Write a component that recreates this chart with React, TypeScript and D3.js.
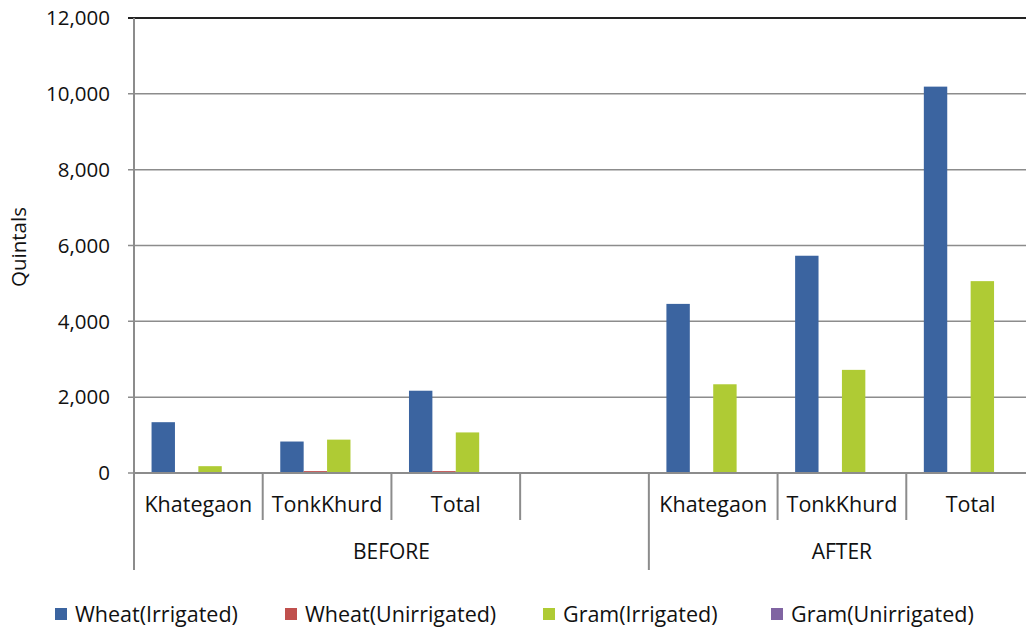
import * as d3 from "d3";

const GROUPS = ["BEFORE", "AFTER"];
const CATEGORIES = [
  { group: "BEFORE", label: "Khategaon" },
  { group: "BEFORE", label: "TonkKhurd" },
  { group: "BEFORE", label: "Total" },
  { group: "BEFORE", label: "" },
  { group: "AFTER", label: "Khategaon" },
  { group: "AFTER", label: "TonkKhurd" },
  { group: "AFTER", label: "Total" },
];
const SERIES = ["Wheat(Irrigated)", "Wheat(Unirrigated)", "Gram(Irrigated)", "Gram(Unirrigated)"];
const COLORS = ["#3b64a0", "#c0504d", "#afcb34", "#8064a2"];

const WHEAT_IRR = [1340, 830, 2170, 0, 4460, 5730, 10190];
const WHEAT_UNIRR = [0, 50, 50, 0, 0, 0, 0];
const GRAM_IRR = [180, 880, 1070, 0, 2340, 2720, 5060];
const GRAM_UNIRR = [0, 0, 0, 0, 0, 0, 0];
const VALUES = [WHEAT_IRR, WHEAT_UNIRR, GRAM_IRR, GRAM_UNIRR];

const Y_TICKS = [0, 2000, 4000, 6000, 8000, 10000, 12000];

const W = 1026, H = 631;
const left = 134, right = 1035, top = 18, bottom = 473;
const FONT = "'Open Sans', sans-serif";

export default function App() {
  const x = d3.scaleBand().domain(d3.range(CATEGORIES.length).map(String)).range([left, right]);
  const xs = d3.scaleBand().domain(SERIES).range([0, x.bandwidth()]).paddingInner(0).paddingOuter(0.75);
  const y = d3.scaleLinear().domain([0, 12000]).range([bottom, top]);
  const fmt = d3.format(",");

  // group spans
  const spans = GROUPS.map(g => {
    const idx = CATEGORIES.map((c, i) => (c.group === g ? i : -1)).filter(i => i >= 0);
    const x0 = x(String(idx[0]))!;
    const x1 = x(String(idx[idx.length - 1]))! + x.bandwidth();
    return { g, x0, x1 };
  });

  return (
    <div style={{ position: "absolute", left: 0, top: 0 }}>
      <svg width={W} height={H} style={{ display: "block", background: "#fff" }} fontFamily={FONT}>
        {/* gridlines */}
        {Y_TICKS.map(t => (
          <line key={t} x1={left - 6} x2={W} y1={y(t)} y2={y(t)}
            stroke={t === 12000 ? "#222" : "#8c8c8c"} strokeWidth={t === 12000 ? 2 : 1.5} />
        ))}
        {Y_TICKS.map(t => (
          <text key={"l" + t} x={110} y={y(t)} dy="0.35em" textAnchor="end" fontSize={20.5} fill="#111">
            {fmt(t)}
          </text>
        ))}

        {/* bars */}
        {CATEGORIES.map((c, ci) =>
          SERIES.map((s, si) => {
            const v = VALUES[si][ci];
            if (!v) return null;
            return (
              <rect key={ci + "-" + si}
                x={x(String(ci))! + xs(s)!}
                y={y(v)}
                width={xs.bandwidth()}
                height={y(0) - y(v)}
                fill={COLORS[si]} />
            );
          })
        )}

        {/* axes */}
        <line x1={left} x2={left} y1={top} y2={570} stroke="#8c8c8c" strokeWidth={2} />
        <line x1={left} x2={W} y1={bottom} y2={bottom} stroke="#8c8c8c" strokeWidth={2} />
        {CATEGORIES.map((c, i) => {
          if (i === 0) return null;
          const xx = x(String(i))!;
          const isGroupEdge = CATEGORIES[i - 1].group !== c.group;
          return (
            <line key={"t" + i} x1={xx} x2={xx} y1={bottom} y2={isGroupEdge ? 570 : 520}
              stroke="#8c8c8c" strokeWidth={2} />
          );
        })}
        {CATEGORIES.map((c, i) => (
          <text key={"c" + i} x={x(String(i))! + x.bandwidth() / 2} y={512} textAnchor="middle" fontSize={21.5} fill="#111">
            {c.label}
          </text>
        ))}
        {spans.map(s => (
          <text key={s.g} x={(s.x0 + s.x1) / 2} y={559} textAnchor="middle" fontSize={21} fill="#111">
            {s.g}
          </text>
        ))}

        {/* y label */}
        <text transform={`translate(26,247) rotate(-90)`} textAnchor="middle" fontSize={20.5} fill="#111">
          Quintals
        </text>

        {/* legend */}
        {SERIES.map((s, i) => {
          const lx = [55, 285, 543, 771][i];
          return (
            <g key={s} transform={`translate(${lx},614)`}>
              <rect x={0} y={-6} width={12} height={12} fill={COLORS[i]} />
              <text x={20} y={0} dy="0.35em" fontSize={21.5} fill="#111">{s}</text>
            </g>
          );
        })}
      </svg>
    </div>
  );
}
